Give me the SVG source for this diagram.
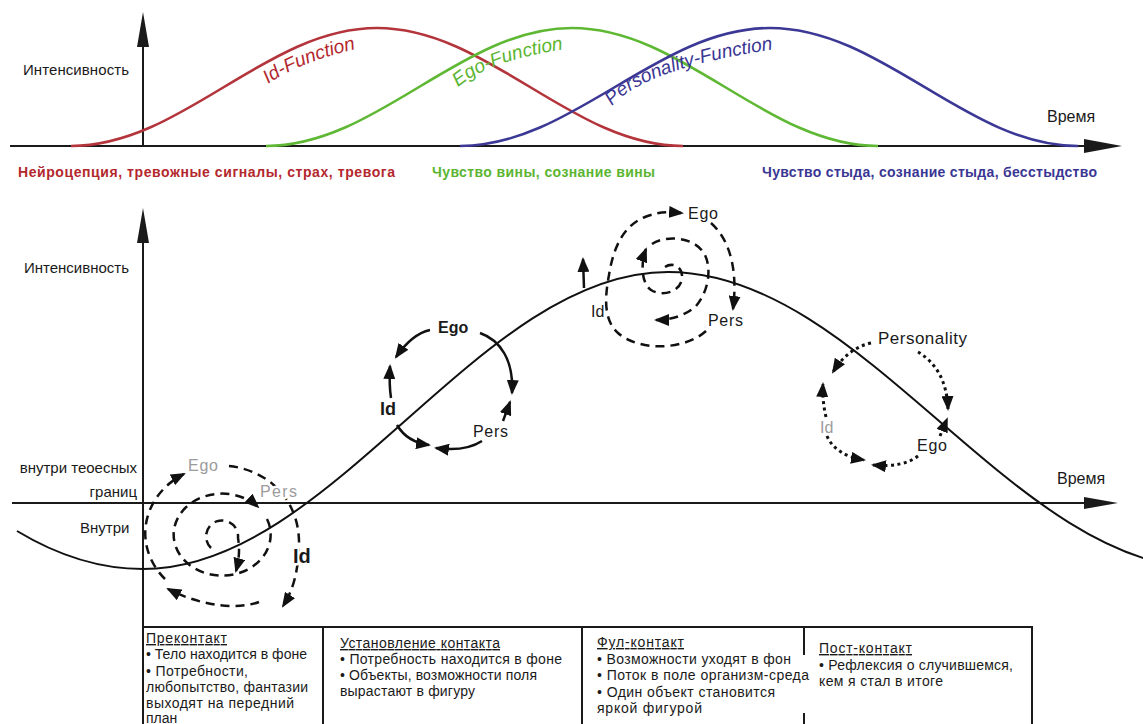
<svg xmlns="http://www.w3.org/2000/svg" width="1143" height="724" viewBox="0 0 1143 724">
<style>
  text { font-family: "Liberation Sans", Arial, sans-serif; fill: #1a1a1a; }
  .ax { stroke: #1a1a1a; stroke-width: 2; fill: none; }
  .ahd { fill: #1a1a1a; }
  .fn { fill: none; stroke-width: 2.6; }
  .cat { font-size: 14px; font-weight: bold; }
  .red { fill: #b3272d; }
  .grn { fill: #5bb531; }
  .blu { fill: #3a3693; }
  .fl { font-size: 19px; font-style: italic; }
  .lbl { font-size: 15px; }
  .cl { font-size: 16px; }
  .gray { fill: #9b9b9b; }
  .halo { stroke: #ffffff; stroke-width: 5; paint-order: stroke; stroke-linejoin: round; }
  .dash { fill: none; stroke: #111; stroke-width: 2.5; stroke-dasharray: 9 6; }
  .solid { fill: none; stroke: #111; stroke-width: 2.5; }
  .dot { fill: none; stroke: #111; stroke-width: 3; stroke-dasharray: 3 3.5; }
  .arr { marker-end: url(#ah); }
  .tb { font-size: 14px; }
  .hd { text-decoration: underline; }
  .grid { stroke: #1a1a1a; stroke-width: 2; fill: none; }
</style>
<defs>
  <marker id="ah" viewBox="0 0 15 12" refX="13" refY="6" markerWidth="15" markerHeight="12" markerUnits="userSpaceOnUse" orient="auto">
    <path d="M0,0 L15,6 L0,12 z" fill="#111"/>
  </marker>
  <path id="p-id" d="M268,84 Q305,58 380,44"/>
  <path id="p-ego" d="M458,87 Q495,56 590,46"/>
  <path id="p-pers" d="M612,106 Q650,64 800,46"/>
</defs>

<rect x="0" y="0" width="1143" height="724" fill="#ffffff"/>

<!-- ===== Top chart ===== -->
<g id="top-chart">
  <line class="ax" x1="10" y1="146" x2="1088" y2="146"/>
  <polygon class="ahd" points="1084,139 1122,146 1084,153"/>
  <line class="ax" x1="143" y1="146" x2="143" y2="44"/>
  <polygon class="ahd" points="137,47 143,12 149,47"/>
  <path class="fn" stroke="#b3343b" d="M71,146 C182,146 266,28 377,28 C488,28 572,146 683,146"/>
  <path class="fn" stroke="#5fb834" d="M266,146 C377,146 461,28 572,28 C683,28 767,146 878,146"/>
  <path class="fn" stroke="#3c3896" d="M460,146 C572,146 658,28 770,28 C882,28 967,146 1078,146"/>
  <text class="fl red"><textPath href="#p-id">Id-Function</textPath></text>
  <text class="fl grn"><textPath href="#p-ego">Ego-Function</textPath></text>
  <text class="fl blu" font-size="18"><textPath href="#p-pers">Personality-Function</textPath></text>
  <text x="23" y="75" font-size="15" textLength="106">Интенсивность</text>
  <text x="1047" y="122" font-size="16">Время</text>
  <text x="18" y="177" class="cat red" textLength="377">Нейроцепция, тревожные сигналы, страх, тревога</text>
  <text x="432" y="177" class="cat grn" textLength="223">Чувство вины, сознание вины</text>
  <text x="762" y="177" class="cat blu" textLength="335">Чувство стыда, сознание стыда, бесстыдство</text>
</g>

<!-- ===== Bottom chart axes and curve ===== -->
<g id="bottom-chart">
  <line class="ax" x1="12" y1="503" x2="1088" y2="503"/>
  <polygon class="ahd" points="1084,497 1118,503 1084,509"/>
  <line class="ax" x1="143" y1="724" x2="143" y2="240"/>
  <polygon class="ahd" points="137,243 143,208 149,243"/>
  <path fill="none" stroke="#111" stroke-width="2" d="M17,531 Q80,569 143,569 C333,569 478,272 668,272 C865,272 1012,569 1209,569"/>
  <text x="24" y="273" font-size="15" textLength="105">Интенсивность</text>
  <text x="137" y="473" font-size="15" text-anchor="end">внутри теоесных</text>
  <text x="137" y="497" font-size="15" text-anchor="end">границ</text>
  <text x="80" y="533" font-size="15">Внутри</text>
  <text x="1057" y="484" font-size="16">Время</text>
</g>

<!-- ===== Connectors (cycle arrows) ===== -->
<g id="connectors">
  <!-- Pre-contact spiral (dashed) -->
  <path class="dash arr" d="M211,548 A16,16 0 1 1 238,538 C240,550 239,560 236,571"/>
  <path class="dash arr" d="M267,519 A48.5,41 0 1 1 258,507"/>
  <path class="dash arr" d="M165,579 A76,68 0 0 1 184,474"/>
  <path class="dash arr" d="M229,466 C268,470 300,500 299,545 C298,575 292,592 283,606"/>
  <path class="dash arr" d="M259,602 C240,609 205,608 168,589"/>

  <!-- Contact cycle (solid) -->
  <path class="solid arr" d="M430,330 Q412,334 396,357"/>
  <path class="solid arr" d="M391,398 Q389,385 390,366"/>
  <path class="solid arr" d="M480,333 C500,340 514,360 512,393"/>
  <path class="solid arr" d="M503,421 L510,402"/>
  <path class="solid arr" d="M482,441 Q465,452 436,448"/>
  <path class="solid arr" d="M397,425 Q407,442 429,445"/>

  <!-- Full-contact spiral (dashed) -->
  <path class="dash arr" d="M665,267 C672,262 683,266 682,278 C681,292 662,297 651,290 C642,284 640,265 646,249"/>
  <path class="dash arr" d="M652,244 C665,235 695,236 705,255 C712,270 708,292 696,306 C685,316 670,320 656,320"/>
  <path class="dash arr" d="M706,331 C685,350 640,352 618,333 C603,320 605,296 609,275 C613,250 622,226 645,217 C660,211 670,212 682,213"/>
  <path class="dash arr" d="M711,223 C730,240 738,270 733,309"/>
  <path class="solid arr" d="M584,288 L583,259"/>

  <!-- Post-contact cycle (dotted) -->
  <path class="dot arr" d="M871,343 Q848,348 833,372"/>
  <path class="dot arr" d="M918,352 C935,362 947,380 948,409"/>
  <path class="dot arr" d="M826,417 Q822,400 823,384"/>
  <path class="dot arr" d="M827,436 Q835,455 864,460"/>
  <path class="dot arr" d="M918,456 Q902,468 873,465"/>
  <path class="dot arr" d="M940,436 L947,419"/>
</g>

<!-- ===== Node labels ===== -->
<g id="precontact-labels">
  <text x="188" y="471" class="cl gray" textLength="30">Ego</text>
  <text x="260" y="497" class="cl gray halo" textLength="37">Pers</text>
  <text x="293" y="563" font-size="20" font-weight="bold" class="halo">Id</text>
</g>
<g id="contact-labels">
  <text x="438" y="333" font-size="16" font-weight="bold">Ego</text>
  <text x="380" y="415" font-size="18" font-weight="bold">Id</text>
  <text x="473" y="437" class="cl" textLength="35">Pers</text>
</g>
<g id="fullcontact-labels">
  <text x="688" y="219" class="cl" textLength="30">Ego</text>
  <text x="708" y="326" class="cl" textLength="35">Pers</text>
  <text x="591" y="317" class="cl">Id</text>
</g>
<g id="postcontact-labels">
  <text x="878" y="344" font-size="17" textLength="89">Personality</text>
  <text x="820" y="433" class="cl gray">Id</text>
  <text x="917" y="451" class="cl" textLength="30">Ego</text>
</g>

<!-- ===== Table ===== -->
<g id="table">
  <line class="grid" x1="143" y1="627" x2="1033" y2="627"/>
  <line class="grid" x1="1032" y1="627" x2="1032" y2="724"/>
  <line class="grid" x1="323" y1="627" x2="323" y2="724"/>
  <line class="grid" x1="582" y1="627" x2="582" y2="724"/>
  <line class="grid" x1="804" y1="627" x2="804" y2="655"/>
  <line class="grid" x1="804" y1="713" x2="804" y2="724"/>
</g>
<g id="col-precontact" class="tb">
  <text x="146" y="643" class="tb hd" textLength="81">Преконтакт</text>
  <text x="146" y="659" class="tb" textLength="161">• Тело находится в фоне</text>
  <text x="146" y="676" class="tb" textLength="102">• Потребности,</text>
  <text x="146" y="692" class="tb" textLength="162">любопытство, фантазии</text>
  <text x="146" y="708" class="tb" textLength="148">выходят на передний</text>
  <text x="146" y="723" class="tb">план</text>
</g>
<g id="col-contact">
  <text x="340" y="648" class="tb hd" textLength="160">Установление контакта</text>
  <text x="340" y="664" class="tb" textLength="222">• Потребность находится в фоне</text>
  <text x="340" y="680" class="tb" textLength="197">• Объекты, возможности поля</text>
  <text x="340" y="696" class="tb" textLength="135">вырастают в фигуру</text>
</g>
<g id="col-fullcontact">
  <text x="597" y="647" class="tb hd" textLength="87">Фул-контакт</text>
  <text x="597" y="664" class="tb" textLength="194">• Возможности уходят в фон</text>
  <text x="597" y="680" class="tb" textLength="212">• Поток в поле организм-среда</text>
  <text x="597" y="697" class="tb" textLength="178">• Один объект становится</text>
  <text x="597" y="713" class="tb" textLength="105">яркой фигурой</text>
</g>
<g id="col-postcontact">
  <text x="819" y="653" class="tb hd" textLength="93">Пост-контакт</text>
  <text x="819" y="670" class="tb" textLength="194">• Рефлексия о случившемся,</text>
  <text x="819" y="686" class="tb" textLength="124">кем я стал в итоге</text>
</g>
</svg>
